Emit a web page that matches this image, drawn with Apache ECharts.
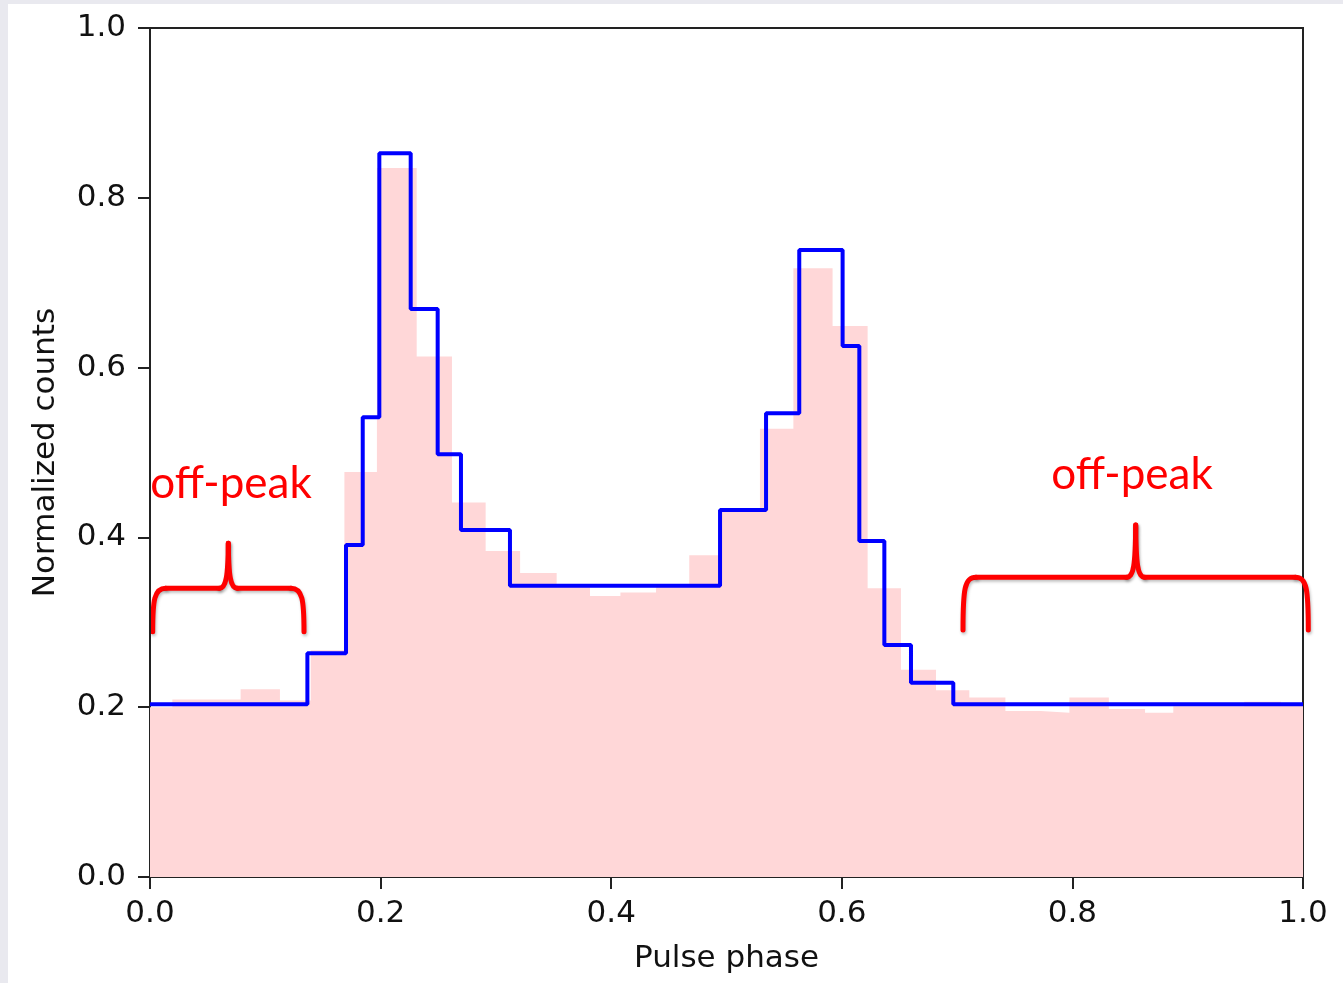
<!DOCTYPE html>
<html>
<head>
<meta charset="utf-8">
<title>Pulse profile</title>
<script src="https://cdn.jsdelivr.net/npm/echarts@6/dist/echarts.min.js"></script>
<style>
  html, body { margin: 0; padding: 0; background: #e9e9ef; }
  #chart { position: absolute; left: 8px; top: 4px; width: 1335px; height: 979px; }
</style>
</head>
<body>
<div id="chart"></div>
<script>
// Bayesian-block profile (blue): left edge of each block and its level
var blockStarts = [0, 0.1365, 0.170, 0.1845, 0.1989, 0.2261, 0.2495, 0.2697, 0.3122, 0.4944, 0.5343, 0.5631, 0.6007, 0.6152, 0.6369, 0.660, 0.6967]
var blockValues = [0.2034, 0.2634, 0.391, 0.5414, 0.8524, 0.669, 0.498, 0.4087, 0.3431, 0.4323, 0.5461, 0.7385, 0.6254, 0.3958, 0.2733, 0.2289, 0.2034]

// binned counts (pink): left edge of each bin and its level
var binStarts = [0, 0.0194, 0.0494, 0.0786, 0.1127, 0.1394, 0.1686, 0.1968, 0.2313, 0.2619, 0.2911, 0.321, 0.3527, 0.3816, 0.408, 0.4389, 0.4677, 0.4944, 0.529, 0.558, 0.592, 0.6224, 0.6513, 0.6817, 0.7106, 0.7419, 0.7725, 0.7974, 0.8316, 0.863, 0.8875, 0.918, 0.949, 0.981]
var binValues = [0.200, 0.209, 0.209, 0.221, 0.208, 0.267, 0.477, 0.835, 0.613, 0.441, 0.384, 0.358, 0.343, 0.331, 0.335, 0.344, 0.379, 0.430, 0.528, 0.717, 0.649, 0.340, 0.244, 0.220, 0.2115, 0.1955, 0.1935, 0.2115, 0.198, 0.1935, 0.201, 0.201, 0.2065, 0.202]

var phaseMax = 1.0

function stepData(starts, values) {
  var out = []
  for (var i = 0; i < starts.length; i++) {
    out.push([starts[i], values[i]])
  }
  out.push([phaseMax, values[values.length - 1]])
  return out
}

var braceStyle = {
  fill: null, stroke: '#ff0000', lineWidth: 5, lineCap: 'round', lineJoin: 'round',
  shadowBlur: 3, shadowColor: 'rgba(0,0,0,0.25)', shadowOffsetX: 1, shadowOffsetY: 2
}

// curly brace annotation (page pixels): ends at x0/x1, bar at yBar, tip at (xm, yTip)
function brace(x0, x1, xm, yBar, yEnd, yTip) {
  var r = 13
  function curve(a, b, c, d) {
    return { type: 'bezierCurve', shape: { x1: a[0], y1: a[1], cpx1: b[0], cpy1: b[1], cpx2: c[0], cpy2: c[1], x2: d[0], y2: d[1] }, style: braceStyle }
  }
  function seg(a, b) {
    return { type: 'line', shape: { x1: a[0], y1: a[1], x2: b[0], y2: b[1] }, style: braceStyle }
  }
  return [
    curve([x0, yEnd], [x0, yBar + 12], [x0 + 1.5, yBar], [x0 + r, yBar]),
    seg([x0 + r, yBar], [xm - 9, yBar]),
    curve([xm - 9, yBar], [xm - 2, yBar], [xm - 0.3, yBar - 13], [xm, yTip]),
    curve([xm, yTip], [xm + 0.3, yBar - 13], [xm + 2, yBar], [xm + 9, yBar]),
    seg([xm + 9, yBar], [x1 - r, yBar]),
    curve([x1 - r, yBar], [x1 - 1.5, yBar], [x1, yBar + 12], [x1, yEnd])
  ]
}

var axisFont = 'DejaVu Sans'
var axisColor = '#222'

var annotations = []
  .concat(brace(152.7, 304, 228.3, 588.3, 631.7, 543.3))
  .concat(brace(963, 1308.3, 1135.7, 577.3, 630, 525))
annotations.push({
  type: 'text',
  style: { text: 'off-peak', x: 231, y: 484, fill: '#ff0000', fontSize: 44, fontFamily: 'Lato', align: 'center', verticalAlign: 'middle' }
})
annotations.push({
  type: 'text',
  style: { text: 'off-peak', x: 1132, y: 475, fill: '#ff0000', fontSize: 44, fontFamily: 'Lato', align: 'center', verticalAlign: 'middle' }
})

var chart = echarts.init(document.getElementById('chart'))
chart.setOption({
  backgroundColor: '#fff',
  animation: false,
  grid: {
    left: 142,
    right: 40,
    top: 24,
    bottom: 106,
    show: true,
    borderColor: axisColor,
    borderWidth: 2,
    backgroundColor: 'transparent'
  },
  xAxis: {
    type: 'value',
    min: 0,
    max: 1,
    interval: 0.2,
    name: 'Pulse phase',
    nameLocation: 'middle',
    nameGap: 66,
    nameTextStyle: { fontSize: 31, color: '#111', fontFamily: axisFont },
    axisLine: { show: true, lineStyle: { color: axisColor, width: 2 } },
    axisTick: { show: true, length: 12, lineStyle: { color: axisColor, width: 2 } },
    axisLabel: {
      fontSize: 31,
      color: '#111',
      fontFamily: axisFont,
      margin: 21,
      formatter: function(v) { return v.toFixed(1) }
    },
    splitLine: { show: false }
  },
  yAxis: {
    type: 'value',
    min: 0,
    max: 1,
    interval: 0.2,
    name: 'Normalized counts',
    nameLocation: 'middle',
    nameGap: 89,
    nameRotate: 90,
    nameTextStyle: { fontSize: 31, color: '#111', fontFamily: axisFont },
    axisLine: { show: true, lineStyle: { color: axisColor, width: 2 } },
    axisTick: { show: true, length: 12, lineStyle: { color: axisColor, width: 2 } },
    axisLabel: {
      fontSize: 31,
      color: '#111',
      fontFamily: axisFont,
      margin: 24,
      formatter: function(v) { return v.toFixed(1) }
    },
    splitLine: { show: false }
  },
  series: [
    {
      name: 'binned',
      type: 'line',
      step: 'end',
      symbol: 'none',
      data: stepData(binStarts, binValues),
      lineStyle: { width: 0, opacity: 0 },
      areaStyle: { color: '#ffd7d8', opacity: 1 },
      z: 1
    },
    {
      name: 'blocks',
      type: 'line',
      step: 'end',
      symbol: 'none',
      data: stepData(blockStarts, blockValues),
      lineStyle: { color: '#0000ff', width: 4 },
      z: 3
    }
  ],
  graphic: [
    {
      type: 'group',
      x: -8,
      y: -4,
      z: 100,
      children: annotations
    }
  ]
})
</script>
</body>
</html>
